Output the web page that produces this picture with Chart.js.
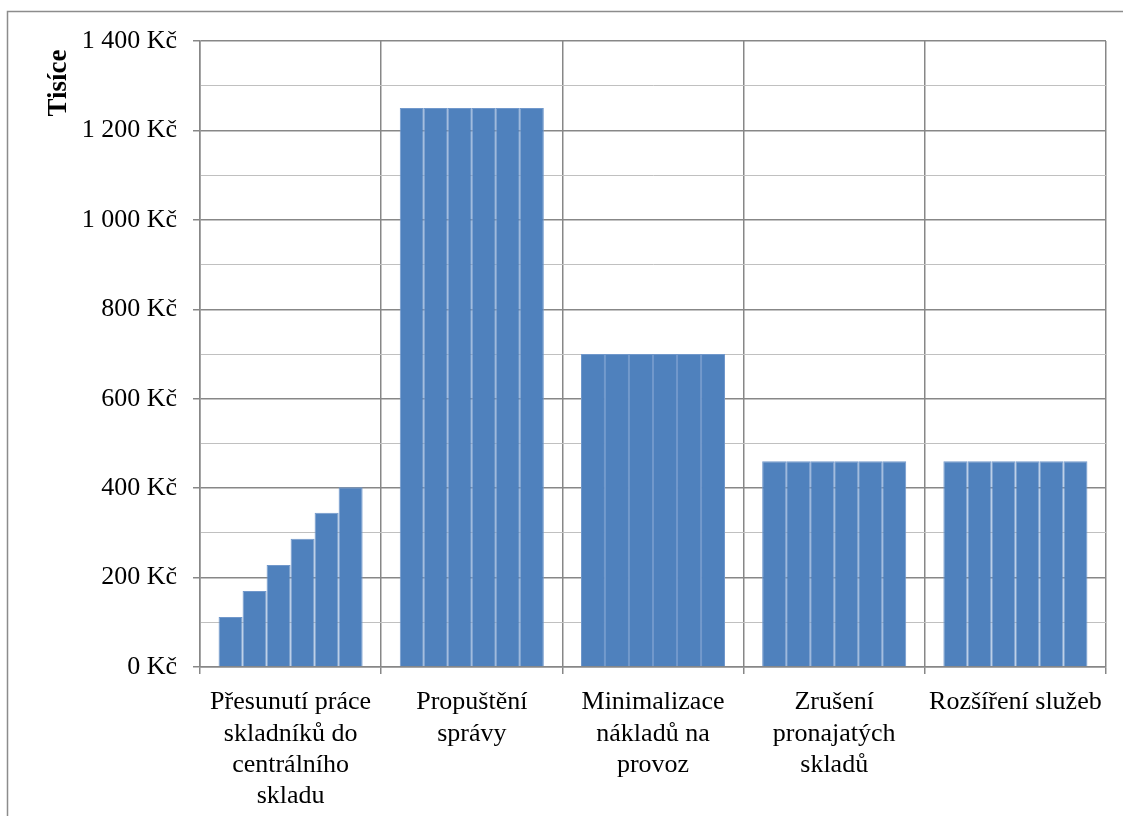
<!DOCTYPE html>
<html>
<head>
<meta charset="utf-8">
<script src="https://cdn.jsdelivr.net/npm/chart.js@4"></script>
<style>
  body { margin: 0; background: #fff; }
  #wrap { position: relative; width: 1123px; height: 816px; }
</style>
</head>
<body>
<div id="wrap"><canvas id="savingsChart"></canvas></div>
<script>
// Categories (x axis labels, split into lines)
const categories = [
  ['Přesunutí práce', 'skladníků do', 'centrálního', 'skladu'],
  ['Propuštění', 'správy'],
  ['Minimalizace', 'nákladů na', 'provoz'],
  ['Zrušení', 'pronajatých', 'skladů'],
  ['Rozšíření služeb']
];

// six series (one bar per series inside each category), in thousands Kč
const series1 = [112, 1250, 700, 460, 460];
const series2 = [170, 1250, 700, 460, 460];
const series3 = [228, 1250, 700, 460, 460];
const series4 = [287, 1250, 700, 460, 460];
const series5 = [345, 1250, 700, 460, 460];
const series6 = [402, 1250, 700, 460, 460];
const seriesNames = ['Řada1', 'Řada2', 'Řada3', 'Řada4', 'Řada5', 'Řada6'];

const yMax = 1400;
const yStep = 100;
const labelStep = 200;
const yTitle = 'Tisíce';

const serif = "'Liberation Serif', 'Times New Roman', serif";
const majorGrid = '#878787';
const minorGrid = '#c0c0c0';

// outer frame of the chart object + rotated axis title near the top
const frame = {
  id: 'frame',
  beforeDraw(chart) {
    const c = chart.ctx;
    c.save();
    c.strokeStyle = '#8c8c8c';
    c.lineWidth = 1.5;
    c.strokeRect(7.5, 11.5, 1300, 1000);
    c.restore();
  },
  afterDraw(chart) {
    const c = chart.ctx;
    c.save();
    c.translate(59, 83);
    c.rotate(-Math.PI / 2);
    c.font = 'bold 27px ' + serif;
    c.fillStyle = '#000';
    c.textAlign = 'center';
    c.textBaseline = 'middle';
    c.fillText(yTitle, 0, 0);
    c.restore();
  }
};

const formatKc = v => {
  return String(v).replace(/\B(?=(\d{3})+(?!\d))/g, ' ') + ' Kč';
};

const ctx = document.getElementById('savingsChart').getContext('2d');

const savingsChart = new Chart(ctx, {
  type: 'bar',
  data: {
    labels: categories,
    datasets: [series1, series2, series3, series4, series5, series6].map(
      (values, i) => ({
        label: seriesNames[i],
        data: values,
        backgroundColor: '#4f81bd',
        borderColor: '#7198cb',
        borderWidth: 1,
        categoryPercentage: 0.795,
        barPercentage: 1
      })
    )
  },
  options: {
    responsive: true,
    maintainAspectRatio: false,
    animation: false,
    layout: {
      padding: { top: 41, right: 17, left: 0, bottom: 0 }
    },
    plugins: {
      legend: { display: false },
      tooltip: { enabled: false }
    },
    scales: {
      x: {
        grid: {
          offset: true,
          color: majorGrid,
          lineWidth: 1.5,
          tickLength: 7
        },
        border: { color: majorGrid, width: 1.5 },
        ticks: {
          color: '#000',
          padding: 13,
          maxRotation: 0,
          autoSkip: false,
          font: { family: serif, size: 26, lineHeight: 1.2 }
        },
        afterFit(scale) {
          scale.height = 149;
        }
      },
      y: {
        min: 0,
        max: yMax,
        ticks: {
          stepSize: yStep,
          color: '#000',
          padding: 16,
          font: { family: serif, size: 26 },
          callback: v => (v % labelStep === 0 ? formatKc(v) : '')
        },
        grid: {
          color: c => (c.tick && c.tick.value % labelStep === 0 ? majorGrid : minorGrid),
          lineWidth: c => (c.tick && c.tick.value % labelStep === 0 ? 1.5 : 1),
          tickColor: c => (c.tick && c.tick.value % labelStep === 0 ? majorGrid : 'rgba(0,0,0,0)'),
          tickLength: 7
        },
        border: { color: majorGrid, width: 1.5 },
        afterFit(scale) {
          scale.width = 200;
        }
      }
    }
  },
  plugins: [frame]
});
</script>
</body>
</html>
